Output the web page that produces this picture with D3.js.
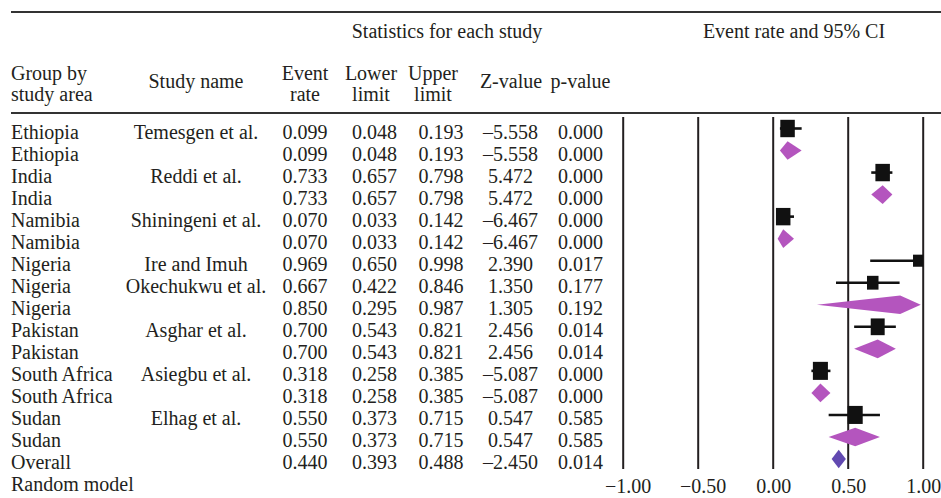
<!DOCTYPE html>
<html>
<head>
<meta charset="utf-8">
<script src="https://cdn.jsdelivr.net/npm/d3@7"></script>
<style>
  html, body { margin: 0; padding: 0; background: #fff; }
  svg { display: block; }
  text { font-family: "Liberation Serif", "Times New Roman", serif; font-size: 20px; fill: #231f20; }
</style>
</head>
<body>
<svg id="chart" width="941" height="498"></svg>
<script>
// Proportion of events by study area (random-effects model)
const groups = ["Ethiopia", "Ethiopia", "India", "India", "Namibia", "Namibia",
  "Nigeria", "Nigeria", "Nigeria", "Pakistan", "Pakistan", "South Africa",
  "South Africa", "Sudan", "Sudan", "Overall"];
const studies = ["Temesgen et al.", "", "Reddi et al.", "", "Shiningeni et al.", "",
  "Ire and Imuh", "Okechukwu et al.", "", "Asghar et al.", "", "Asiegbu et al.", "",
  "Elhag et al.", "", ""];
const rowType = ["study", "subgroup", "study", "subgroup", "study", "subgroup",
  "study", "study", "subgroup", "study", "subgroup", "study", "subgroup",
  "study", "subgroup", "overall"];
const eventRate = [0.099, 0.099, 0.733, 0.733, 0.070, 0.070, 0.969, 0.667, 0.850,
  0.700, 0.700, 0.318, 0.318, 0.550, 0.550, 0.440];
const lowerLimit = [0.048, 0.048, 0.657, 0.657, 0.033, 0.033, 0.650, 0.422, 0.295,
  0.543, 0.543, 0.258, 0.258, 0.373, 0.373, 0.393];
const upperLimit = [0.193, 0.193, 0.798, 0.798, 0.142, 0.142, 0.998, 0.846, 0.987,
  0.821, 0.821, 0.385, 0.385, 0.715, 0.715, 0.488];
const zValue = [-5.558, -5.558, 5.472, 5.472, -6.467, -6.467, 2.390, 1.350, 1.305,
  2.456, 2.456, -5.087, -5.087, 0.547, 0.547, -2.450];
const pValue = [0.000, 0.000, 0.000, 0.000, 0.000, 0.000, 0.017, 0.177, 0.192,
  0.014, 0.014, 0.000, 0.000, 0.585, 0.585, 0.014];
// relative study weights (square area)
const weight = [13.5, null, 13.5, null, 13.5, null, 6.5, 8.5, null, 12.5, null,
  14.5, null, 14.5, null, null];
const axisTicks = [-1.00, -0.50, 0.00, 0.50, 1.00];
const modelLabel = "Random model";

const svg = d3.select("#chart");
const ink = "#231f20";
const magenta = "#b455be";
const violet = "#6249b1";

// scales
const x = d3.scaleLinear().domain([-1, 1]).range([622.7, 922.7]);
const y = d3.scaleLinear().domain([0, groups.length - 1]).range([128.5, 459]);
const side = d3.scaleSqrt().domain([0, 13.5]).range([0, 14.5]);
const fmt = d3.format(".3f");
const fmtZ = v => (v < 0 ? "\u2013" : "") + d3.format(".3f")(Math.abs(v));

// header rules
svg.append("line").attr("x1", 11).attr("x2", 941).attr("y1", 12).attr("y2", 12)
  .attr("stroke", "#333").attr("stroke-width", 1.8);
svg.append("line").attr("x1", 11).attr("x2", 941).attr("y1", 113).attr("y2", 113)
  .attr("stroke", "#333").attr("stroke-width", 1.8);

const head = svg.append("g");
head.append("text").attr("x", 447).attr("y", 38).attr("text-anchor", "middle")
  .text("Statistics for each study");
head.append("text").attr("x", 794).attr("y", 38).attr("text-anchor", "middle")
  .text("Event rate and 95% CI");

const twoLine = [
  { x: 11, anchor: "start", a: "Group by", b: "study area" },
  { x: 305, anchor: "middle", a: "Event", b: "rate" },
  { x: 371, anchor: "middle", a: "Lower", b: "limit" },
  { x: 433, anchor: "middle", a: "Upper", b: "limit" }
];
twoLine.forEach(h => {
  head.append("text").attr("x", h.x).attr("y", 80).attr("text-anchor", h.anchor).text(h.a);
  head.append("text").attr("x", h.x).attr("y", 101).attr("text-anchor", h.anchor).text(h.b);
});
head.append("text").attr("x", 196).attr("y", 88).attr("text-anchor", "middle").text("Study name");
head.append("text").attr("x", 511).attr("y", 88).attr("text-anchor", "middle").text("Z-value");
head.append("text").attr("x", 580.5).attr("y", 88).attr("text-anchor", "middle").text("p-value");

// table body
const rows = d3.range(groups.length);
const base = i => y(i) + 10;
const body = svg.append("g");
body.selectAll("text.grp").data(rows).join("text").attr("class", "grp")
  .attr("x", 11).attr("y", base).text(i => groups[i]);
body.selectAll("text.std").data(rows.filter(i => studies[i])).join("text").attr("class", "std")
  .attr("x", 196).attr("y", base).attr("text-anchor", "middle").text(i => studies[i]);

const cols = [
  { cx: 305, val: i => fmt(eventRate[i]) },
  { cx: 374.5, val: i => fmt(lowerLimit[i]) },
  { cx: 441, val: i => fmt(upperLimit[i]) },
  { cx: 510.5, val: i => fmtZ(zValue[i]) },
  { cx: 580.5, val: i => fmt(pValue[i]) }
];
cols.forEach(c => {
  body.append("g").selectAll("text").data(rows).join("text")
    .attr("x", c.cx).attr("y", base).attr("text-anchor", "middle").text(c.val);
});
body.append("text").attr("x", 11).attr("y", y(groups.length) + 10).text(modelLabel);

// axis with full-height reference lines
const axisY = 469;
const axis = d3.axisBottom(x).tickValues(axisTicks).tickFormat(d3.format(".2f"))
  .tickSizeInner(-(axisY - 117)).tickSizeOuter(0);
const ag = svg.append("g").attr("transform", `translate(0,${axisY})`).call(axis);
ag.select(".domain").remove();
ag.selectAll(".tick line").attr("stroke", ink).attr("stroke-width", 2);
ag.selectAll(".tick text")
  .attr("y", 24).attr("dy", 0).attr("x", d => d < 0 ? 5 : 0.5)
  .style("font-family", "'Liberation Serif', 'Times New Roman', serif")
  .style("font-size", "20px").attr("fill", ink);

// forest marks
const plot = svg.append("g");
const studyRows = rows.filter(i => rowType[i] === "study");
plot.selectAll("line.ci").data(studyRows).join("line").attr("class", "ci")
  .attr("x1", i => x(lowerLimit[i])).attr("x2", i => x(upperLimit[i]))
  .attr("y1", i => y(i)).attr("y2", i => y(i))
  .attr("stroke", "#111").attr("stroke-width", 2.6);
plot.selectAll("rect.pt").data(studyRows).join("rect").attr("class", "pt")
  .attr("x", i => x(eventRate[i]) - side(weight[i]) / 2)
  .attr("y", i => y(i) - side(weight[i]) * 1.2 / 2)
  .attr("width", i => side(weight[i]))
  .attr("height", i => side(weight[i]) * 1.2)
  .attr("fill", "#111");

const dh = 9.3;
const diamond = i => {
  const l = x(lowerLimit[i]), m = x(eventRate[i]), r = x(upperLimit[i]), c = y(i);
  return `M${l},${c}L${m},${c - dh}L${r},${c}L${m},${c + dh}Z`;
};
plot.selectAll("path.sum").data(rows.filter(i => rowType[i] !== "study")).join("path")
  .attr("class", "sum")
  .attr("d", diamond)
  .attr("fill", i => rowType[i] === "overall" ? violet : magenta);
</script>
</body>
</html>
